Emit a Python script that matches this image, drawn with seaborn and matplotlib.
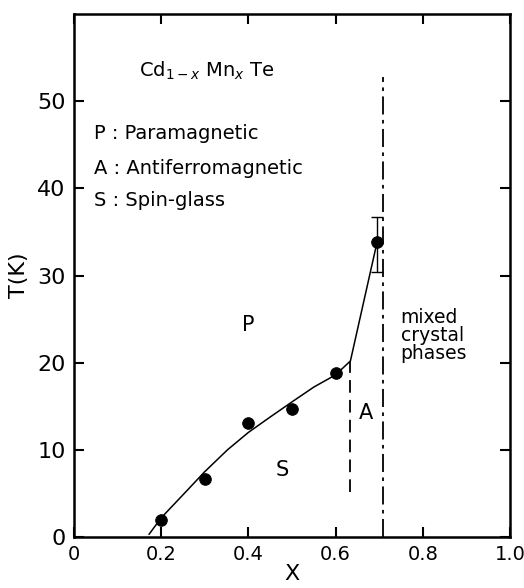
import numpy as np
import pandas as pd
import matplotlib
matplotlib.use("Agg")
import matplotlib.pyplot as plt
import seaborn as sns

# measured data points
x_pts = [0.2, 0.3, 0.4, 0.5, 0.6, 0.695]
t_pts = [1.9, 6.6, 13.1, 14.7, 18.8, 33.8]
# error bar on last point
err_x = 0.695
err_lo = 30.4
err_hi = 36.7

# phase boundary curve
curve_x = [0.172, 0.2, 0.253, 0.3, 0.352, 0.4, 0.451, 0.5, 0.55, 0.6, 0.634, 0.695]
curve_t = [0.3, 2.2, 5.0, 7.5, 10.0, 12.0, 13.8, 15.5, 17.2, 18.6, 20.2, 33.8]

# boundaries
sa_x = 0.634
sa_t = [5.2, 20.2]
mix_x = 0.709
mix_t = [0.0, 52.8]

xticks = [0, 0.2, 0.4, 0.6, 0.8, 1.0]
xticklabels = ["0", "0.2", "0.4", "0.6", "0.8", "1.0"]
yticks = [0, 10, 20, 30, 40, 50]
yticklabels = ["0", "10", "20", "30", "40", "50"]

sns.set_style("ticks")
plt.rcParams['font.family'] = ['DejaVu Sans']
plt.rcParams['text.color'] = 'black'
plt.rcParams['axes.labelcolor'] = 'black'
plt.rcParams['xtick.color'] = 'black'
plt.rcParams['ytick.color'] = 'black'

fig = plt.figure(figsize=(5.24, 5.88), dpi=100)
ax = fig.add_axes([74/524, 1 - 537/588, (510 - 74)/524, (537 - 14)/588])

df_curve = pd.DataFrame({"x": curve_x, "T": curve_t})
sns.lineplot(data=df_curve, x="x", y="T", sort=False, color="black", lw=1.1, ax=ax)

df_pts = pd.DataFrame({"x": x_pts, "T": t_pts})
sns.scatterplot(data=df_pts, x="x", y="T", color="black", s=70, edgecolor="black", zorder=5, ax=ax)

ax.errorbar([err_x], [(err_lo + err_hi) / 2], yerr=[[(err_hi - err_lo) / 2], [(err_hi - err_lo) / 2]],
            fmt="none", ecolor="black", elinewidth=1.0, capsize=4, capthick=1.0)

ax.plot([sa_x, sa_x], sa_t, color="black", lw=1.3, linestyle=(0, (7, 4)))
ax.plot([mix_x, mix_x], mix_t, color="black", lw=1.3, linestyle=(0, (10, 3, 2, 3)))

ax.set_xlim(0, 1.0)
ax.set_ylim(0, 60)
ax.set_xticks(xticks)
ax.set_xticklabels(xticklabels)
ax.set_yticks(yticks)
ax.set_yticklabels(yticklabels)
ax.tick_params(direction="in", length=7, width=1.5, top=True, right=True, pad=6)
ax.tick_params(axis="x", labelsize=14)
ax.tick_params(axis="y", labelsize=16)
for s in ax.spines.values():
    s.set_linewidth(1.8)
    s.set_visible(True)
    s.set_color("black")

ax.set_xlabel("X", fontsize=16, labelpad=0)
ax.set_ylabel("T(K)", fontsize=16, labelpad=6)

ax.text(0.15, 53.5, r"Cd$_{1-x}$ Mn$_x$ Te", fontsize=14, va="center", ha="left")
ax.text(0.047, 46.3, "P : Paramagnetic", fontsize=14, va="center", ha="left")
ax.text(0.047, 42.3, "A : Antiferromagnetic", fontsize=14, va="center", ha="left")
ax.text(0.047, 38.6, "S : Spin-glass", fontsize=14, va="center", ha="left")
ax.text(0.40, 24.3, "P", fontsize=15, va="center", ha="center")
ax.text(0.477, 7.7, "S", fontsize=15, va="center", ha="center")
ax.text(0.669, 14.2, "A", fontsize=15, va="center", ha="center")
ax.text(0.749, 23.1, "mixed\ncrystal\nphases", fontsize=13.5, va="center", ha="left",
        linespacing=0.95)

fig.savefig("out.png", dpi=100)
